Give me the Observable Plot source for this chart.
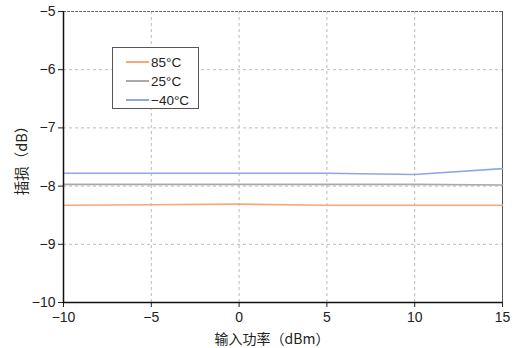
<!DOCTYPE html>
<html>
<head>
<meta charset="utf-8">
<script src="https://cdn.jsdelivr.net/npm/d3@7"></script>
<script src="https://cdn.jsdelivr.net/npm/@observablehq/plot@0.6"></script>
<style>
  html, body { margin: 0; padding: 0; background: #fff; }
  #wrap { position: relative; width: 519px; height: 348px; font-family: "Liberation Sans", "Noto Sans CJK SC", sans-serif; }
  #legend { position: absolute; left: 112px; top: 47px; width: 87px; height: 62px; border: 1.5px solid #555; background: #fff; box-sizing: border-box; font-size: 13.5px; color: #222; }
  #legend .row { position: absolute; left: 13px; display: flex; align-items: center; height: 16px; }
  #legend .sw { width: 23px; height: 2px; margin-right: 2px; }
</style>
</head>
<body>
<div id="wrap"></div>
<script>
// Input power (dBm)
const power = [-10, -5, 0, 5, 10, 15];
// Insertion loss (dB) per temperature
const loss85 = [-8.33, -8.32, -8.31, -8.33, -8.33, -8.33];
const loss25 = [-7.97, -7.97, -7.97, -7.97, -7.97, -7.98];
const lossM40 = [-7.78, -7.78, -7.78, -7.78, -7.80, -7.70];
const seriesNames = ["85°C", "25°C", "-40°C"];
const seriesColors = ["#f8a77a", "#a9a9a9", "#8ea9e0"];
const xTicks = [-10, -5, 0, 5, 10, 15];
const yTicks = [-10, -9, -8, -7, -6, -5];

const rows = [];
[loss85, loss25, lossM40].forEach((vals, i) => {
  vals.forEach((v, j) => rows.push({series: seriesNames[i], x: power[j], y: v}));
});

const minus = d => String(d).replace("-", "\u2212");

const chart = Plot.plot({
  width: 519,
  height: 348,
  marginLeft: 63,
  marginRight: 17,
  marginTop: 11,
  marginBottom: 46,
  style: { fontFamily: "Liberation Sans, sans-serif", fontSize: "14px", color: "#222", background: "#fff" },
  x: { domain: [-10, 15], ticks: xTicks, tickFormat: minus, label: null },
  y: { domain: [-10, -5], ticks: yTicks, tickFormat: minus, label: null },
  color: { domain: seriesNames, range: seriesColors },
  marks: [
    Plot.gridX(xTicks.slice(1, -1), { stroke: "#bbb", strokeOpacity: 1, strokeDasharray: "3,3" }),
    Plot.gridY(yTicks.slice(1, -1), { stroke: "#bbb", strokeOpacity: 1, strokeDasharray: "3,3" }),
    Plot.ruleY([-5], { stroke: "#666", strokeDasharray: "3,1" }),
    Plot.ruleX([15], { stroke: "#555" }),
    Plot.line(rows, { x: "x", y: "y", z: "series", stroke: "series", strokeWidth: 1.6 }),
    Plot.axisX({ ticks: xTicks, tickFormat: minus, tickSize: 5, tickPadding: 5, fontSize: 14, label: null }),
    Plot.axisY({ ticks: yTicks, tickFormat: minus, tickSize: 5, tickPadding: 3, fontSize: 14, label: null }),
    Plot.ruleX([-10], { stroke: "#111", strokeWidth: 1.5 }),
    Plot.ruleY([-10], { stroke: "#111", strokeWidth: 1.5 })
  ]
});

const wrap = document.getElementById("wrap");
wrap.appendChild(chart);

// Axis titles
const ns = "http://www.w3.org/2000/svg";
function addText(txt, attrs) {
  const t = document.createElementNS(ns, "text");
  for (const k in attrs) t.setAttribute(k, attrs[k]);
  t.textContent = txt;
  chart.appendChild(t);
}
addText("输入功率（dBm）", { x: 272, y: 344, "text-anchor": "middle", "font-size": 14, "font-family": "Noto Sans CJK SC, sans-serif", fill: "#222" });
addText("插损（dB）", { transform: "translate(27,157) rotate(-90)", "text-anchor": "middle", "font-size": 14.5, "font-family": "Noto Sans CJK SC, sans-serif", fill: "#222" });

// Legend
const legend = document.createElement("div");
legend.id = "legend";
seriesNames.forEach((name, i) => {
  const row = document.createElement("div");
  row.className = "row";
  row.style.top = (6 + i * 19) + "px";
  const sw = document.createElement("div");
  sw.className = "sw";
  sw.style.background = seriesColors[i];
  const lab = document.createElement("span");
  lab.textContent = name.replace("-", "\u2212");
  row.appendChild(sw);
  row.appendChild(lab);
  legend.appendChild(row);
});
wrap.appendChild(legend);
</script>
</body>
</html>
